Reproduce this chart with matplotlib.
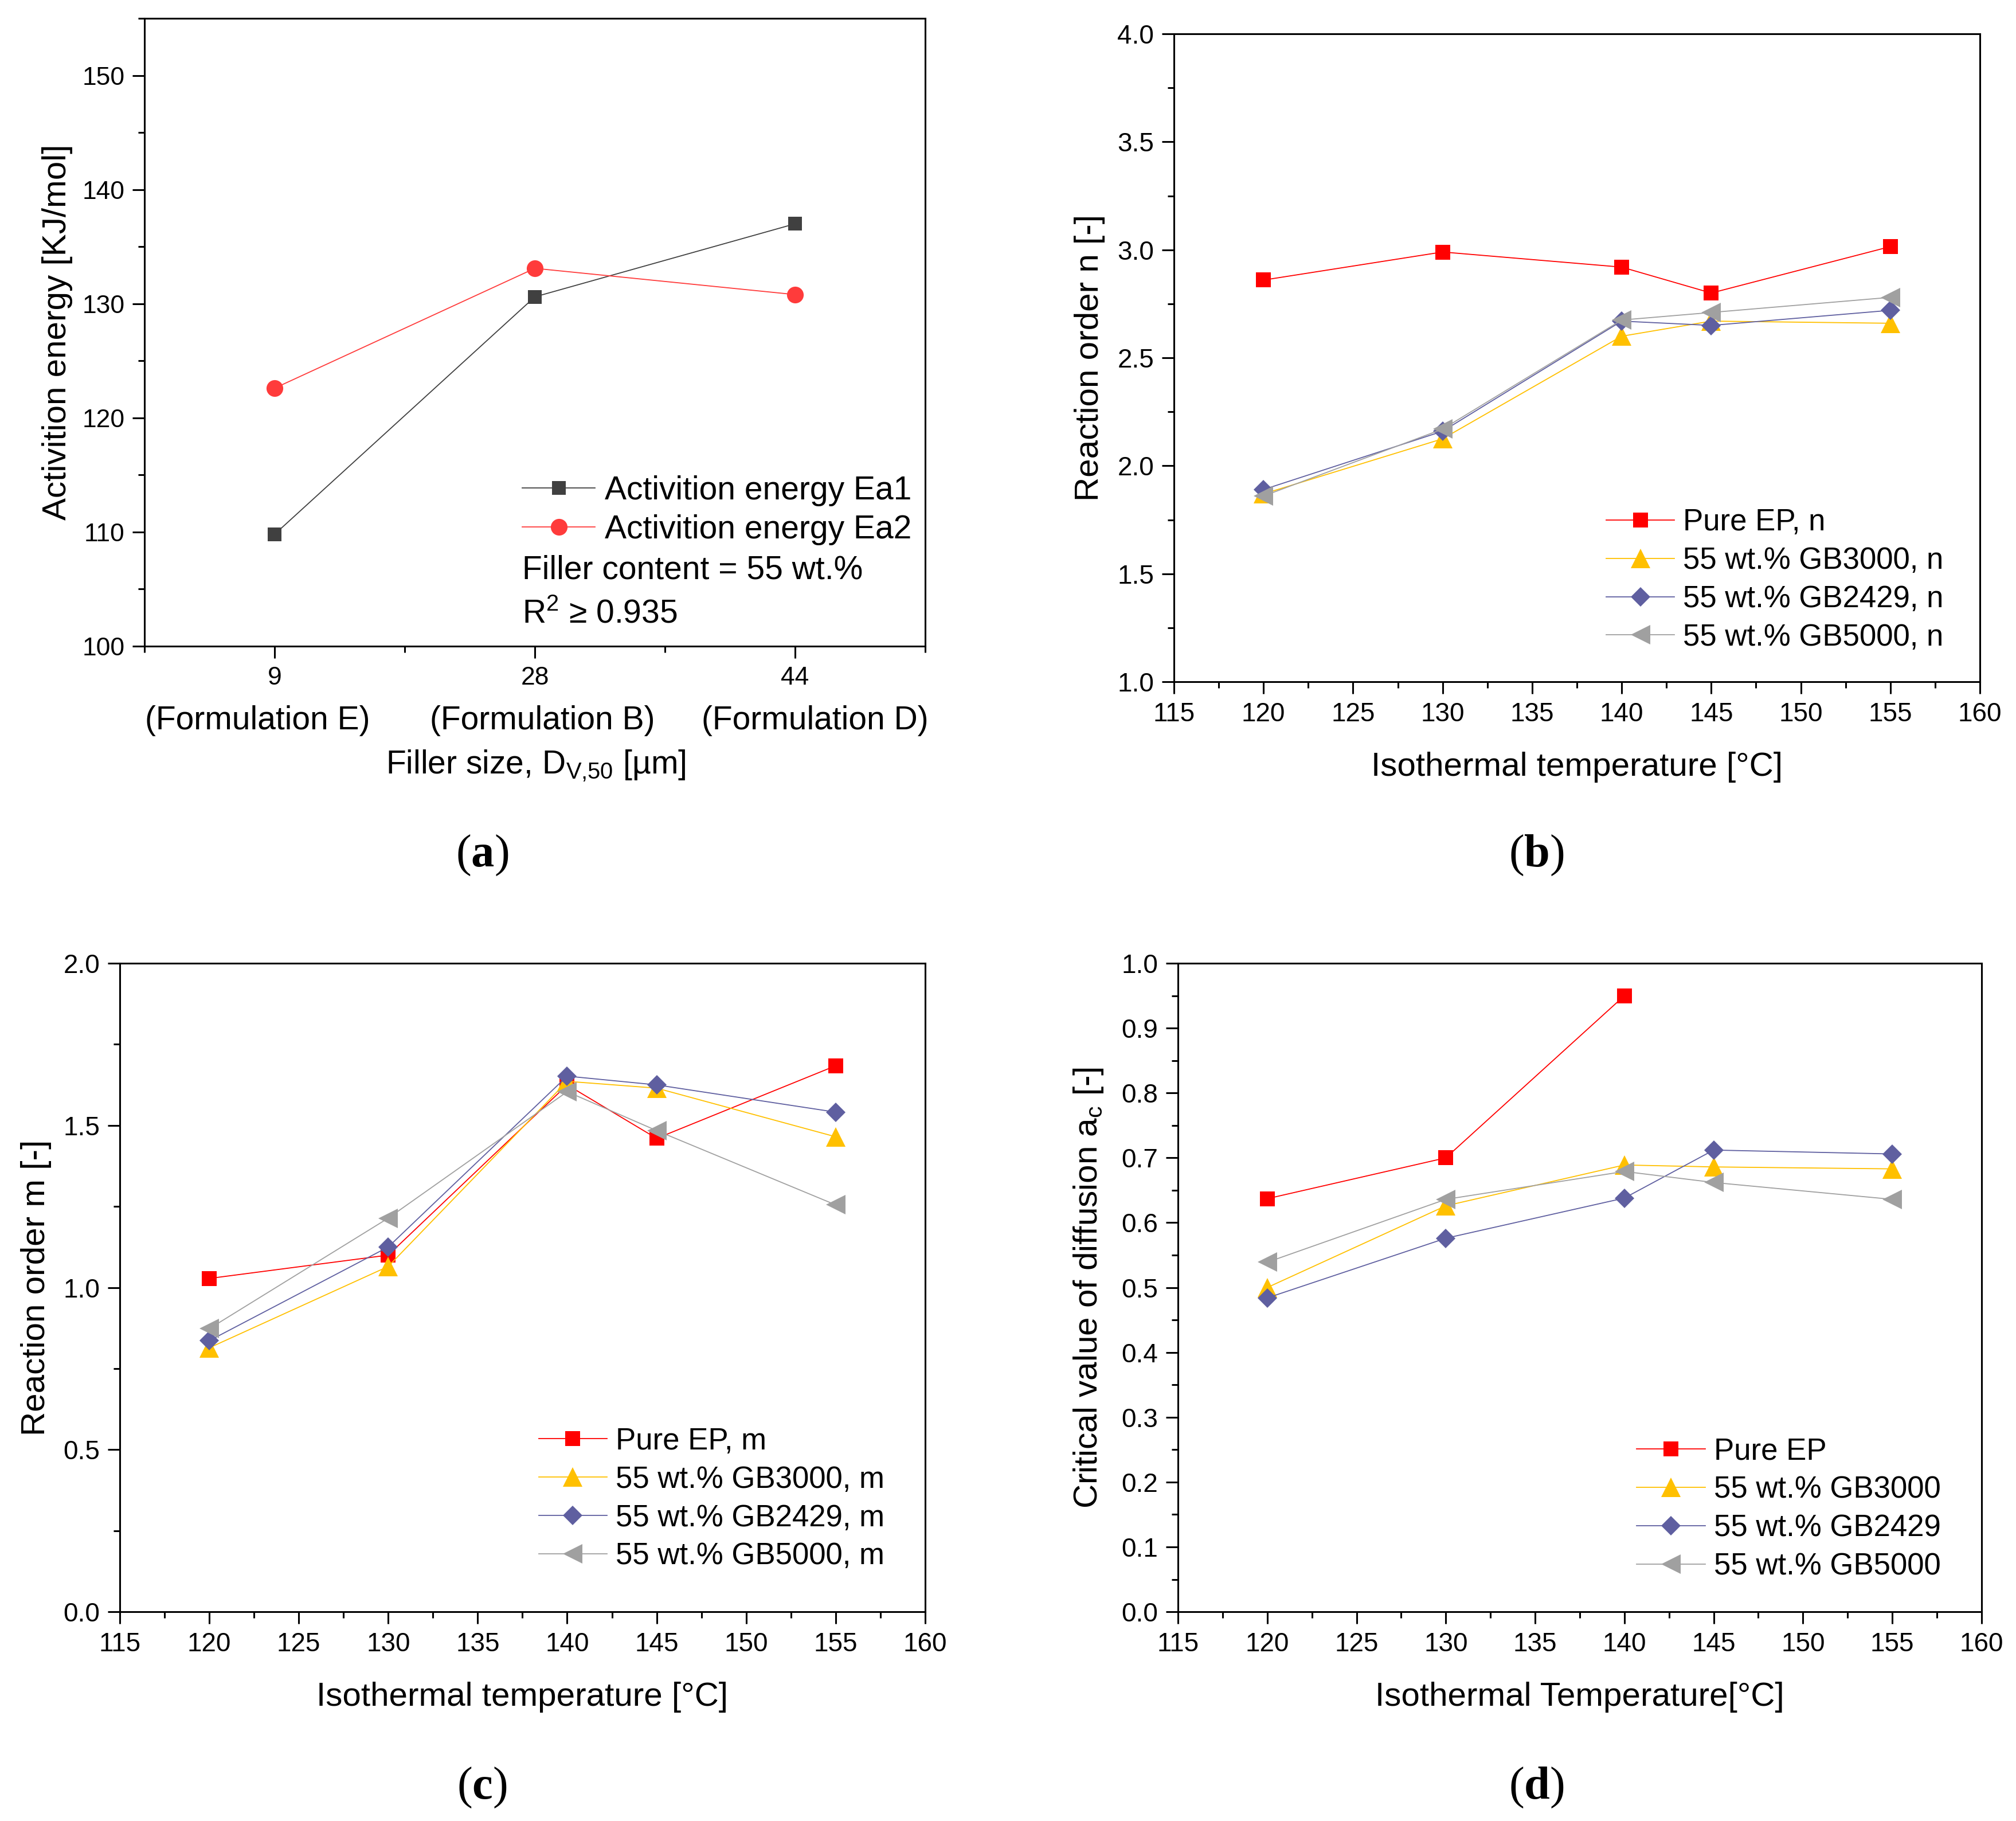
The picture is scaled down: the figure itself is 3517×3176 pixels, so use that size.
import matplotlib
matplotlib.use('Agg')
import matplotlib.pyplot as plt
from matplotlib.ticker import MultipleLocator, FixedLocator

plt.rcParams['font.family'] = ['Liberation Sans', 'DejaVu Sans']
plt.rcParams['mathtext.fontset'] = 'custom'
plt.rcParams['mathtext.rm'] = 'Liberation Sans'
plt.rcParams['mathtext.bf'] = 'Liberation Serif:bold'

# (a) activation energy vs filler size
filler_size = ['9', '28', '44']
formulation = ['(Formulation E)', '(Formulation B)', '(Formulation D)']
ea1 = [109.8, 130.6, 137.0]
ea2 = [122.6, 133.1, 130.8]

# (b)-(d) isothermal temperatures
temps = [120, 130, 140, 145, 155]
temps_pure_ac = [120, 130, 140]

n_pure = [2.86, 2.99, 2.92, 2.80, 3.015]
n_gb3000 = [1.87, 2.125, 2.60, 2.67, 2.66]
n_gb2429 = [1.89, 2.16, 2.67, 2.65, 2.72]
n_gb5000 = [1.86, 2.17, 2.675, 2.71, 2.78]

m_pure = [1.028, 1.10, 1.625, 1.46, 1.684]
m_gb3000 = [0.814, 1.065, 1.636, 1.615, 1.465]
m_gb2429 = [0.836, 1.125, 1.652, 1.625, 1.541]
m_gb5000 = [0.873, 1.214, 1.604, 1.484, 1.255]

ac_pure = [0.637, 0.700, 0.950]
ac_gb3000 = [0.50, 0.626, 0.689, 0.686, 0.683]
ac_gb2429 = [0.484, 0.576, 0.638, 0.712, 0.706]
ac_gb5000 = [0.539, 0.636, 0.679, 0.662, 0.636]

RED = '#FF0000'
GOLD = '#FFC000'
NAVY = '#5F5FA0'
GREY = '#A0A0A0'
STYLES = [(RED, 's', 19), (GOLD, '^', 25), (NAVY, 'D', 17), (GREY, '<', 25)]

fig = plt.figure(figsize=(35.17, 31.76), dpi=100)


def style(ax):
    for s in ax.spines.values():
        s.set_linewidth(2.2)
    ax.tick_params(which='both', direction='out', top=False, right=False,
                   width=2.2, labelsize=33, pad=10)
    ax.tick_params(which='major', length=15)
    ax.tick_params(which='minor', length=8)


def temp_axes(ax):
    ax.set_xlim(115, 160)
    ax.xaxis.set_major_locator(MultipleLocator(5))
    ax.xaxis.set_minor_locator(MultipleLocator(2.5))


def draw_series(ax, xs_list, ys_list, labels):
    for xs, ys, lab, (c, mk, ms) in zip(xs_list, ys_list, labels, STYLES):
        ax.plot(xs, ys, color=c, lw=1.3, marker=mk, ms=ms, mew=0, label=lab)


def legend(ax, x, y):
    ax.legend(loc='upper left', bbox_to_anchor=(x, y), frameon=False, fontsize=38,
              handlelength=2.27, handletextpad=0.28, labelspacing=0.32,
              borderpad=0, borderaxespad=0, numpoints=1)


def labels(ax, xlabel, ylabel, ylx):
    ax.text(0.5, -0.132, xlabel, transform=ax.transAxes, ha='center', va='center', fontsize=42)
    ax.text(ylx, 0.5, ylabel, transform=ax.transAxes, ha='center', va='center',
            rotation=90, fontsize=42)


# ---- (a)
ax = fig.add_axes([0.0717, 0.6452, 0.3872, 0.3447])
style(ax)
pos = [1, 2, 3]
ax.plot(pos, ea1, color='#404040', lw=1.3, marker='s', ms=17, mew=0, label='Activition energy Ea1')
ax.plot(pos, ea2, color='#FF3B3B', lw=1.3, marker='o', ms=21, mew=0, label='Activition energy Ea2')
ax.set_xlim(0.5, 3.5)
ax.set_ylim(100, 155)
ax.xaxis.set_major_locator(FixedLocator(pos))
ax.xaxis.set_minor_locator(FixedLocator([0.5, 1.5, 2.5, 3.5]))
ax.set_xticklabels(filler_size)
ax.yaxis.set_major_locator(MultipleLocator(10))
ax.yaxis.set_minor_locator(MultipleLocator(5))
ax.tick_params(axis='both', labelsize=32)
for xf, t in zip([0.145, 0.510, 0.859], formulation):
    ax.text(xf, -0.133, t, transform=ax.transAxes, ha='center', va='baseline', fontsize=41)
ax.text(0.501, -0.203, r'Filler size, D$\mathregular{_{V{,}50}}$ [µm]', transform=ax.transAxes,
        ha='center', va='baseline', fontsize=41)
ax.text(-0.112, 0.5, 'Activition energy [KJ/mol]', transform=ax.transAxes, ha='center',
        va='center', rotation=90, fontsize=42)
ax.legend(loc='upper left', bbox_to_anchor=(0.484, 0.272), frameon=False, fontsize=41,
          handlelength=2.23, handletextpad=0.3, labelspacing=0.25,
          borderpad=0, borderaxespad=0, numpoints=1)
ax.text(0.484, 0.107, 'Filler content = 55 wt.%', transform=ax.transAxes, va='baseline', fontsize=41)
ax.text(0.484, 0.037, r'R$\mathregular{^2}$ ≥ 0.935', transform=ax.transAxes, va='baseline', fontsize=41)

# ---- (b)
ax = fig.add_axes([0.5823, 0.6256, 0.3998, 0.3558])
style(ax)
temp_axes(ax)
draw_series(ax, [temps] * 4, [n_pure, n_gb3000, n_gb2429, n_gb5000],
            ['Pure EP, n', '55 wt.% GB3000, n', '55 wt.% GB2429, n', '55 wt.% GB5000, n'])
ax.set_ylim(1.0, 4.0)
ax.yaxis.set_major_locator(MultipleLocator(0.5))
ax.yaxis.set_minor_locator(MultipleLocator(0.25))
ax.yaxis.set_major_formatter('{x:.1f}')
legend(ax, 0.536, 0.268)
labels(ax, 'Isothermal temperature [°C]', 'Reaction order n [-]', -0.1046)

# ---- (c)
ax = fig.add_axes([0.0594, 0.1149, 0.3995, 0.3561])
style(ax)
temp_axes(ax)
draw_series(ax, [temps] * 4, [m_pure, m_gb3000, m_gb2429, m_gb5000],
            ['Pure EP, m', '55 wt.% GB3000, m', '55 wt.% GB2429, m', '55 wt.% GB5000, m'])
ax.set_ylim(0.0, 2.0)
ax.yaxis.set_major_locator(MultipleLocator(0.5))
ax.yaxis.set_minor_locator(MultipleLocator(0.25))
ax.yaxis.set_major_formatter('{x:.1f}')
legend(ax, 0.520, 0.285)
labels(ax, 'Isothermal temperature [°C]', 'Reaction order m [-]', -0.104)

# ---- (d)
ax = fig.add_axes([0.5843, 0.1149, 0.3986, 0.3561])
style(ax)
temp_axes(ax)
draw_series(ax, [temps_pure_ac, temps, temps, temps], [ac_pure, ac_gb3000, ac_gb2429, ac_gb5000],
            ['Pure EP', '55 wt.% GB3000', '55 wt.% GB2429', '55 wt.% GB5000'])
ax.set_ylim(0.0, 1.0)
ax.yaxis.set_major_locator(MultipleLocator(0.1))
ax.yaxis.set_minor_locator(MultipleLocator(0.05))
ax.yaxis.set_major_formatter('{x:.1f}')
legend(ax, 0.571, 0.269)
labels(ax, 'Isothermal Temperature[°C]', r'Critical value of diffusion a$\mathregular{_c}$ [-]', -0.111)

# panel letters
for x, y, l in [(0.2391, 0.5302, 'a'), (0.762, 0.5302, 'b'),
                (0.2391, 0.0183, 'c'), (0.762, 0.0183, 'd')]:
    fig.text(x, y, '(' + r'$\mathbf{' + l + '}$' + ')', ha='center', va='center',
             fontsize=58, family='Liberation Serif')

fig.savefig('out.png', dpi=100)
